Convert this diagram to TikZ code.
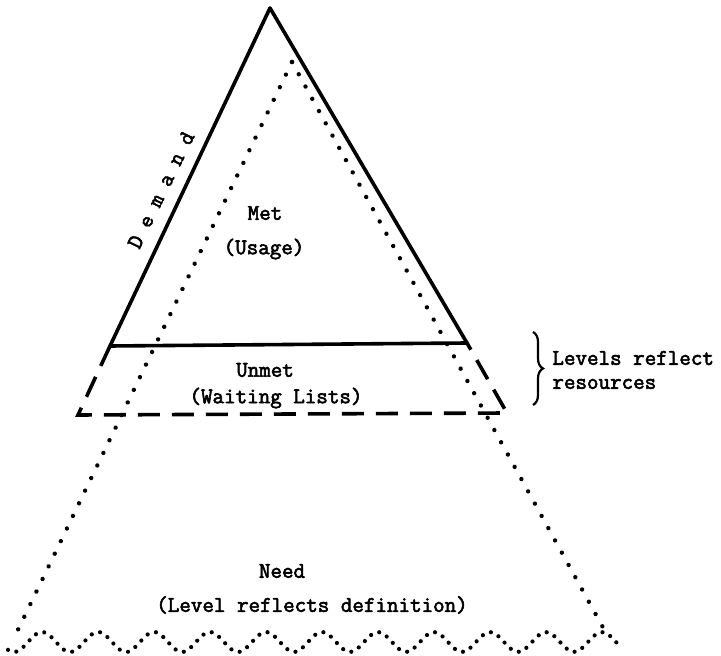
\documentclass[tikz,border=0pt]{standalone}
\usepackage{fontspec}
\newfontfamily\twfont[FakeBold=2.6]{Latin Modern Mono}
\usetikzlibrary{decorations.pathreplacing,decorations.markings}
\begin{document}
\begin{tikzpicture}[x=0.5pt,y=-0.5pt,
  solidline/.style={line width=1.8pt, line join=round, line cap=round},
  dashline/.style={line width=1.8pt, dash pattern=on 11pt off 6pt},
  dotline/.style={decoration={markings, mark=between positions 0 and 1 step 7pt with {\fill (0,0) circle (1.1pt);}}, postaction={decorate}},
  wavedots/.style={decoration={markings, mark=between positions 0 and 1 step 4.4pt with {\fill (0,0) circle (1.05pt);}}, postaction={decorate}},
  lbl/.style={font=\twfont\fontsize{11.2}{12}\selectfont, inner sep=0pt}]
\useasboundingbox (0,0) rectangle (721,656);
% vertices
\coordinate (apex) at (270,8);
\coordinate (bl) at (110,346);
\coordinate (br) at (467,343);
\coordinate (dbl) at (78,415);
\coordinate (dbr) at (507,413);
\coordinate (napex) at (292,62);
\coordinate (nl) at (15,636);
\coordinate (nr) at (606,633);
\coordinate (bt) at (533,332);
\coordinate (bb) at (533,405);
% solid triangle (Met)
\draw[solidline] (bl) -- (apex) -- (br) -- cycle;
% dashed trapezoid (Unmet)
\draw[dashline] (bl) -- (dbl) -- (dbr) -- (br);
% dotted triangle (Need)
\path[dotline] (napex) -- (nl);
\path[dotline] (napex) -- (nr);
% wavy base
\path[wavedots] plot[domain=8:620, samples=154] (\x, {642 - 10*cos(6.428571*(\x-42))});
% brace
\draw[line width=1.1pt, decorate, decoration={brace, amplitude=5pt}] (bt) -- (bb);
% labels
\node[lbl] (met) at (265,213) {Met};
\node[lbl] (usage) at (264,249) {(Usage)};
\node[lbl] (unmet) at (265,370) {Unmet};
\node[lbl] (wait) at (276,398) {(Waiting Lists)};
\node[lbl] (need) at (282,571) {Need};
\node[lbl] (lvl) at (312,605) {(Level reflects definition)};
\node[lbl, rotate=64] (dem) at (161,190) {D e m a n d};
\node[lbl, anchor=west, align=left] (res) at (552,370) {Levels reflect\\resources};
\end{tikzpicture}
\end{document}
